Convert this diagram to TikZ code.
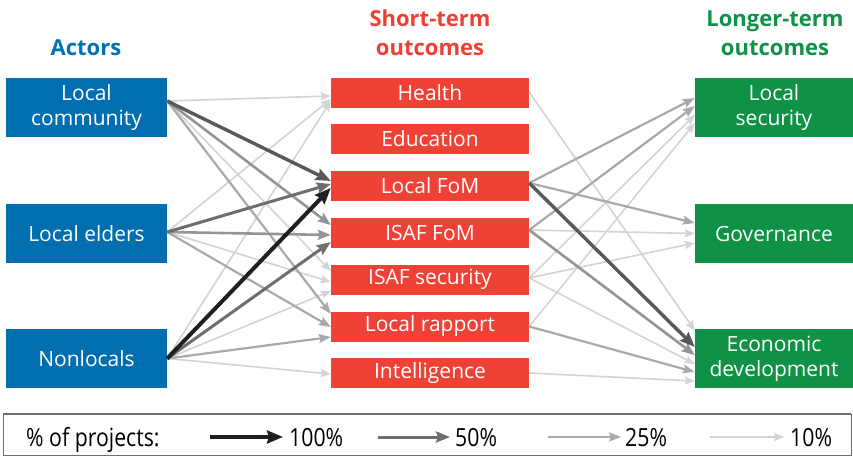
\documentclass[tikz,border=0pt]{standalone}
\usepackage{fontspec}
\setmainfont{Open Sans}
\newfontfamily\condfont[FakeStretch=0.85]{Open Sans}
\usetikzlibrary{arrows.meta}
\definecolor{actblue}{HTML}{006EAF}
\definecolor{stred}{HTML}{EF4136}
\definecolor{ltgreen}{HTML}{0F9245}
\definecolor{hdrblue}{HTML}{0072B5}
\definecolor{hdrred}{HTML}{EE3F35}
\definecolor{hdrgreen}{HTML}{0F9245}
\definecolor{g100}{HTML}{231F20}
\definecolor{g60}{HTML}{58595B}
\definecolor{g50}{HTML}{6D6E71}
\definecolor{g35}{HTML}{939598}
\definecolor{g25}{HTML}{A7A9AC}
\definecolor{g10}{HTML}{D1D3D4}
\begin{document}
\begin{tikzpicture}[x=1pt,y=-1pt,
  box/.style={inner sep=0pt, text=white, font=\fontsize{21}{25}\selectfont, align=center},
  actbox/.style={box, fill=actblue, minimum width=161pt, minimum height=59pt},
  midbox/.style={box, fill=stred, minimum width=198pt, minimum height=30pt},
  ltbox/.style={box, fill=ltgreen, minimum width=158pt, minimum height=59pt},
  hdr/.style={anchor=base, font=\fontsize{22}{28}\selectfont\bfseries, inner sep=0pt},
  e100/.style={draw=g100, line width=4pt, -{Stealth[length=16pt,width=13pt,inset=2pt]}},
  e60/.style={draw=g60, line width=3.4pt, -{Stealth[length=15pt,width=12pt,inset=2pt]}},
  e50/.style={draw=g50, line width=3pt, -{Stealth[length=14pt,width=11pt,inset=2pt]}},
  e35/.style={draw=g35, line width=2.6pt, -{Stealth[length=13pt,width=10pt,inset=2pt]}},
  e25/.style={draw=g25, line width=2.2pt, -{Stealth[length=12pt,width=9pt,inset=2pt]}},
  e10/.style={draw=g10, line width=1.6pt, -{Stealth[length=10pt,width=8pt,inset=1.5pt]}},
  legtext/.style={anchor=base west, inner sep=0pt, font=\condfont\fontsize{25}{28}\selectfont}
]
\useasboundingbox (0,0) rectangle (853,455);

% headers
\node[hdr, text=hdrblue] (h1) at (86,55) {Actors};
\node[hdr, text=hdrred] (h2a) at (430,27) {Short-term};
\node[hdr, text=hdrred] (h2b) at (430,55) {outcomes};
\node[hdr, text=hdrgreen] (h3a) at (775,27) {Longer-term};
\node[hdr, text=hdrgreen] (h3b) at (775,55) {outcomes};

% actors
\node[actbox] (lc) at (86.5,107.5) {Local\\community};
\node[actbox] (le) at (86.5,233.5) {Local elders};
\node[actbox] (nl) at (86.5,358.5) {Nonlocals};

% short-term
\node[midbox] (he) at (430,93) {Health};
\node[midbox] (edu) at (430,139) {Education};
\node[midbox] (lfom) at (430,186) {Local FoM};
\node[midbox] (ifom) at (430,233) {ISAF FoM};
\node[midbox] (isec) at (430,279.5) {ISAF security};
\node[midbox] (lrap) at (430,326.5) {Local rapport};
\node[midbox] (intl) at (430,373) {Intelligence};

% longer-term
\node[ltbox] (ls) at (774,107.5) {Local\\security};
\node[ltbox] (gv) at (774,233.5) {Governance};
\node[ltbox] (ec) at (774,358.5) {Economic\\development};

% ---- left edges, light first
\draw[e10] ([yshift=6.5pt]lc.east) -- ([yshift=-3pt]he.west);
\draw[e10] ([yshift=1.5pt]le.east) -- ([yshift=-6pt]he.west);
\draw[e10] (nl.east) -- ([yshift=-8pt]he.west);
\draw[e10] ([yshift=6.5pt]lc.east) -- ([yshift=8.5pt]isec.west);
\draw[e10] ([yshift=1.5pt]le.east) -- ([yshift=-2.5pt]isec.west);
\draw[e10] (nl.east) -- ([yshift=-11.5pt]isec.west);
\draw[e10] (nl.east) -- ([yshift=-1pt]intl.west);
\draw[e25] ([yshift=6.5pt]lc.east) -- ([yshift=12.5pt]lrap.west);
\draw[e25] ([yshift=1.5pt]le.east) -- ([yshift=-0.5pt]lrap.west);
\draw[e25] (nl.east) -- ([yshift=-10.5pt]lrap.west);
\draw[e35] ([yshift=6.5pt]lc.east) -- ([yshift=8pt]ifom.west);
\draw[e35] ([yshift=1.5pt]le.east) -- ([yshift=-2pt]ifom.west);
\draw[e50] (nl.east) -- ([yshift=-9pt]ifom.west);
\draw[e50] ([yshift=1.5pt]le.east) -- ([yshift=2pt]lfom.west);
\draw[e60] ([yshift=6.5pt]lc.east) -- ([yshift=5pt]lfom.west);
\draw[e100] (nl.east) -- ([yshift=-2pt]lfom.west);

% ---- right edges
\draw[e10] ([yshift=1pt]he.east) -- ([yshift=28pt]ec.west);
\draw[e10] ([yshift=1.5pt]isec.east) -- ([yshift=-7.5pt]ls.west);
\draw[e10] (lrap.east) -- ([yshift=-15.5pt]ls.west);
\draw[e10] ([yshift=3pt]ifom.east) -- (gv.west);
\draw[e10] ([yshift=1.5pt]isec.east) -- ([yshift=-9.5pt]gv.west);
\draw[e10] ([yshift=1.5pt]isec.east) -- ([yshift=-5.5pt]ec.west);
\draw[e10] (intl.east) -- ([yshift=-22.5pt]ec.west);
\draw[e25] ([yshift=3pt]lfom.east) -- ([yshift=9.5pt]ls.west);
\draw[e25] ([yshift=3pt]ifom.east) -- ([yshift=1.5pt]ls.west);
\draw[e25] ([yshift=3pt]lfom.east) -- ([yshift=10.5pt]gv.west);
\draw[e25] (lrap.east) -- ([yshift=-13.5pt]ec.west);
\draw[e35] ([yshift=3pt]ifom.east) -- ([yshift=3.5pt]ec.west);
\draw[e60] ([yshift=3pt]lfom.east) -- ([yshift=11.5pt]ec.west);

% ---- legend
\draw[g50, line width=1pt] (3,414) rectangle (851,455);
\draw[g50, line width=2.5pt] (3,414) -- (851,414);
\node[legtext] (lg0) at (26,446) {\% of projects:};
\coordinate (a1s) at (210,437); \coordinate (a1e) at (283,437);
\coordinate (a2s) at (378,437); \coordinate (a2e) at (450,437);
\coordinate (a3s) at (548,437); \coordinate (a3e) at (621,437);
\coordinate (a4s) at (710,437); \coordinate (a4e) at (784,437);
\draw[e100] (a1s) -- (a1e);
\draw[e50] (a2s) -- (a2e);
\draw[e25] (a3s) -- (a3e);
\draw[e10] (a4s) -- (a4e);
\node[legtext] (lg1) at (289,446) {100\%};
\node[legtext] (lg2) at (455,446) {50\%};
\node[legtext] (lg3) at (625,446) {25\%};
\node[legtext] (lg4) at (790,446) {10\%};
\end{tikzpicture}
\end{document}
